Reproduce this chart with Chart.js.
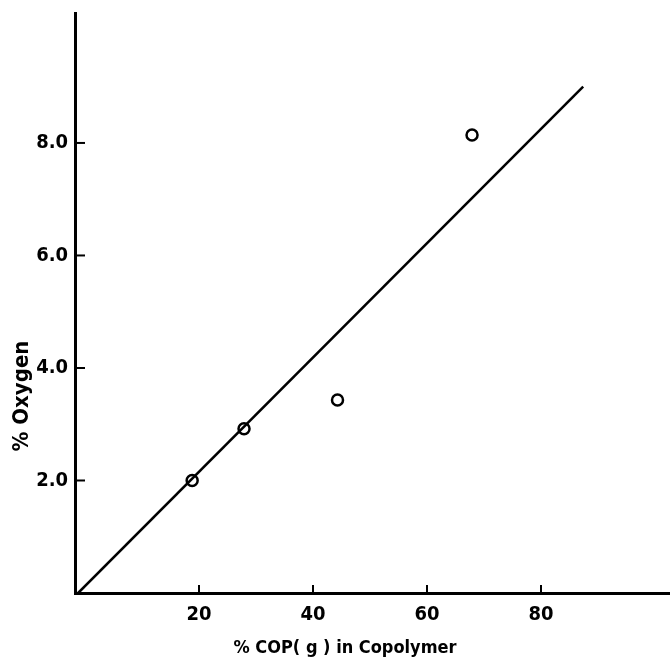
<!DOCTYPE html>
<html>
<head>
<meta charset="utf-8">
<script src="https://cdn.jsdelivr.net/npm/chart.js@4/dist/chart.umd.min.js"></script>
<style>
  body { margin: 0; background: #fff; }
  canvas { display: block; }
</style>
</head>
<body>
<canvas id="oxygenChart" width="670" height="668"></canvas>
<script>
// data
const copPercent = [18.8, 27.9, 44.3, 67.9];
const oxygenPercent = [2.0, 2.92, 3.43, 8.14];

// fitted straight line, its two ends
const fitX = [-1.2, 87.4];
const fitY = [0, 9.0];

const xTicks = [20, 40, 60, 80];
const yTicks = [2, 4, 6, 8];

const xTitle = '% COP( g ) in Copolymer';
const yTitle = '% Oxygen';

const FONT = "'Liberation Sans Narrow', 'DejaVu Sans Condensed', 'Liberation Sans', sans-serif";

// drop the padding chart.js keeps for edge labels so the plot fills the box
function noPad(s) {
    s.paddingTop = 0;
    s.paddingBottom = 0;
    s.paddingLeft = 0;
    s.paddingRight = 0;
}

// small inward tick marks + axis titles
const axisExtras = {
    id: 'axisExtras',
    afterDraw(chart) {
        const ctx = chart.ctx;
        const area = chart.chartArea;
        const xs = chart.scales.x, ys = chart.scales.y;
        ctx.save();
        ctx.strokeStyle = '#000';
        ctx.lineWidth = 2;
        xTicks.forEach(v => {
            const px = xs.getPixelForValue(v);
            ctx.beginPath();
            ctx.moveTo(px, area.bottom);
            ctx.lineTo(px, area.bottom - 8);
            ctx.stroke();
        });
        yTicks.forEach(v => {
            const py = ys.getPixelForValue(v);
            ctx.beginPath();
            ctx.moveTo(area.left + 2, py);
            ctx.lineTo(area.left + 10, py);
            ctx.stroke();
        });

        ctx.fillStyle = '#000';
        ctx.textAlign = 'center';
        ctx.textBaseline = 'alphabetic';
        ctx.font = 'bold 18px ' + FONT;
        ctx.fillText(xTitle, 345, 653);

        ctx.font = 'bold 22px ' + FONT;
        ctx.translate(28, 396);
        ctx.rotate(-Math.PI / 2);
        ctx.fillText(yTitle, 0, 0);
        ctx.restore();
    }
};

new Chart(document.getElementById('oxygenChart'), {
    type: 'scatter',
    data: {
        datasets: [
            {
                label: 'measured',
                data: copPercent.map((x, i) => ({ x: x, y: oxygenPercent[i] })),
                pointStyle: 'circle',
                pointRadius: 5.5,
                pointBorderWidth: 2.5,
                pointBorderColor: '#000',
                pointBackgroundColor: 'rgba(0,0,0,0)',
                showLine: false
            },
            {
                label: 'fit',
                data: fitX.map((x, i) => ({ x: x, y: fitY[i] })),
                showLine: true,
                borderColor: '#000',
                borderWidth: 2.5,
                pointRadius: 0
            }
        ]
    },
    options: {
        responsive: false,
        animation: false,
        layout: { autoPadding: false, padding: { left: 0, right: 0, top: 13, bottom: 0 } },
        plugins: {
            legend: { display: false },
            tooltip: { enabled: false }
        },
        scales: {
            x: {
                type: 'linear',
                min: -1.754,
                max: 102.63,
                afterBuildTicks: s => { s.ticks = xTicks.map(v => ({ value: v })); },
                afterFit: s => { s.height = 75; noPad(s); },
                grid: { display: true, drawOnChartArea: false, drawTicks: false },
                border: { display: true, color: '#000', width: 3 },
                ticks: {
                    color: '#000',
                    padding: 10,
                    maxRotation: 0,
                    font: { family: FONT, size: 20, weight: 'bold' },
                    callback: v => String(v)
                }
            },
            y: {
                type: 'linear',
                min: 0,
                max: 10.31,
                afterBuildTicks: s => { s.ticks = yTicks.map(v => ({ value: v })); },
                afterFit: s => { s.width = 75; noPad(s); },
                grid: { display: true, drawOnChartArea: false, drawTicks: false },
                border: { display: true, color: '#000', width: 3 },
                ticks: {
                    color: '#000',
                    padding: 7,
                    font: { family: FONT, size: 20, weight: 'bold' },
                    callback: v => v.toFixed(1)
                }
            }
        }
    },
    plugins: [axisExtras]
});
</script>
</body>
</html>
